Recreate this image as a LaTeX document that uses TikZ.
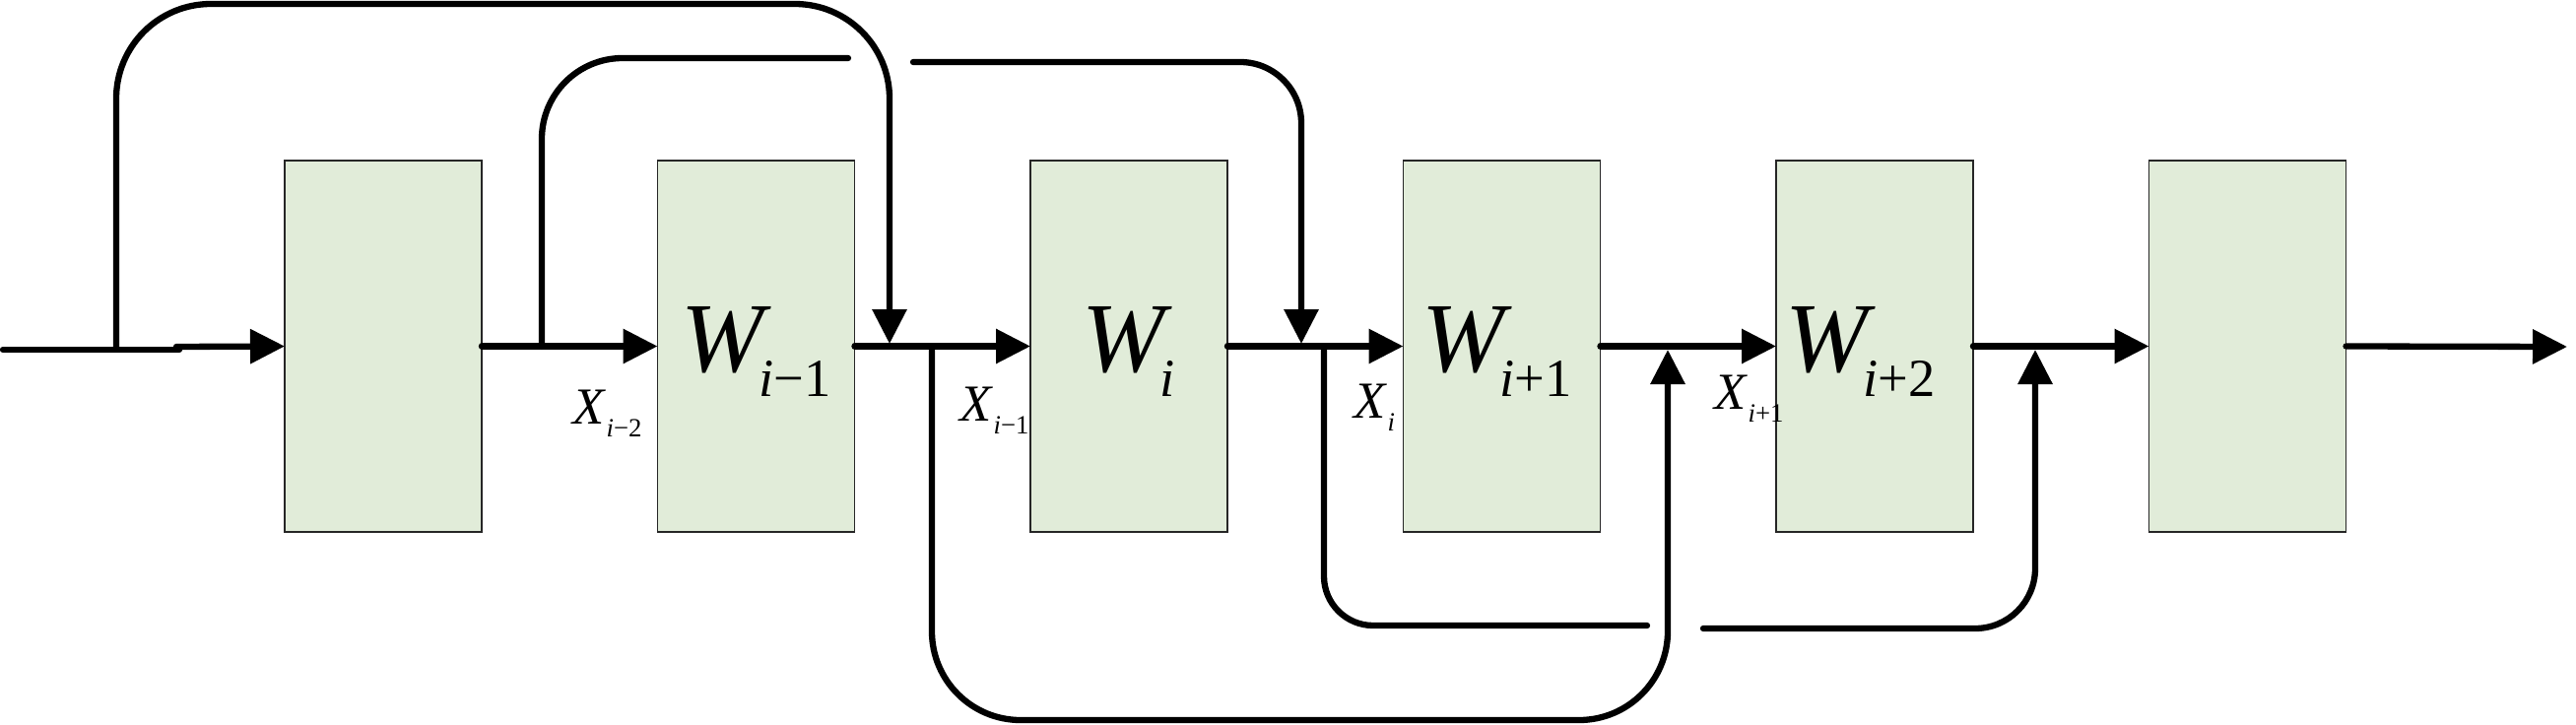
\documentclass[tikz,border=0pt]{standalone}
\usepackage{fontspec}
\setmainfont{Liberation Serif}
\usetikzlibrary{arrows.meta,positioning}
\definecolor{blockgreen}{RGB}{225,236,217}

\begin{document}
\begin{tikzpicture}[x=0.1mm, y=-0.1mm,
    block/.style={draw=black!85, line width=0.45pt, fill=blockgreen, minimum width=2cm, minimum height=3.77cm, inner sep=0, outer sep=0},
    wire/.style={line width=0.63mm, line cap=round},
    flow/.style={wire, -{Triangle[length=3.5mm, width=3.4mm]}},
    wlab/.style={anchor=base west, inner sep=0, font=\fontsize{28.7}{30}\selectfont},
    xlab/.style={anchor=base west, inner sep=0, font=\fontsize{15}{16}\selectfont},
]
    \useasboundingbox (0,0) rectangle (2615,735);

    % stages
    \node[block, anchor=north west] (b1) at (289,163) {};
    \node[block, right=17.85mm of b1] (b2) {};
    \node[block, right=17.85mm of b2] (b3) {};
    \node[block, right=17.85mm of b3] (b4) {};
    \node[block, right=17.85mm of b4] (b5) {};
    \node[block, right=17.85mm of b5] (b6) {};

    \coordinate (in) at (3,355);
    \coordinate (inb) at (182,355);
    \coordinate (ina) at (179,352);
    \coordinate (out) at (2606,352);

    % main path
    \draw[wire] (in) -- (inb);
    \draw[flow] (ina) -- (b1.west);
    \foreach \a/\b in {b1/b2, b2/b3, b3/b4, b4/b5, b5/b6}
        \draw[flow] (\a.east) -- (\b.west);
    \draw[flow] (b6.east) -- (out);

    % skip paths
    \coordinate (s1) at (118,353);
    \coordinate (j1) at (903,349);
    \coordinate (s2) at (550,352);
    \coordinate (e2) at (861,59);
    \coordinate (s3) at (927,63);
    \coordinate (j3) at (1321,349);
    \coordinate (s4) at (946,352);
    \coordinate (j4) at (1693,355);
    \coordinate (s5) at (1344,352);
    \coordinate (e5) at (1672,635);
    \coordinate (s6) at (1729,638);
    \coordinate (j6) at (2066,355);

    \draw[flow, rounded corners=9.6mm] (s1) -- ++(0,-349) -| (j1);
    \draw[wire, rounded corners=8.2mm] (s2) |- (e2);
    \draw[flow, rounded corners=6.2mm] (s3) -| (j3);
    \draw[flow, rounded corners=9mm] (s4) -- ++(0,379) -| (j4);
    \draw[wire, rounded corners=5mm] (s5) |- (e5);
    \draw[flow, rounded corners=6.1mm] (s6) -| (j6);

    % labels
    \node[wlab] (w2) at (691,377) {\textit{W}\kern-1.3mm\raisebox{-2.5mm}{\fontsize{15.5}{16}\selectfont\textit{i}−1}};
    \node[wlab] (w3) at (1098,377) {\textit{W}\kern-1.3mm\raisebox{-2.5mm}{\fontsize{15.5}{16}\selectfont\textit{i}}};
    \node[wlab] (w4) at (1443,377) {\textit{W}\kern-1.3mm\raisebox{-2.5mm}{\fontsize{15.5}{16}\selectfont\textit{i}+1}};
    \node[wlab] (w5) at (1812,377) {\textit{W}\kern-1.3mm\raisebox{-2.5mm}{\fontsize{15.5}{16}\selectfont\textit{i}+2}};

    \node[xlab] (x1) at (581,430) {\textit{X}\raisebox{-1.3mm}{\fontsize{7.6}{8}\selectfont\textit{i}−2}};
    \node[xlab] (x2) at (974,427) {\textit{X}\raisebox{-1.3mm}{\fontsize{7.6}{8}\selectfont\textit{i}−1}};
    \node[xlab] (x3) at (1374,424) {\textit{X}\raisebox{-1.3mm}{\fontsize{7.6}{8}\selectfont\textit{i}}};
    \node[xlab] (x4) at (1740,415) {\textit{X}\raisebox{-1.3mm}{\fontsize{7.6}{8}\selectfont\textit{i}+1}};
\end{tikzpicture}
\end{document}
